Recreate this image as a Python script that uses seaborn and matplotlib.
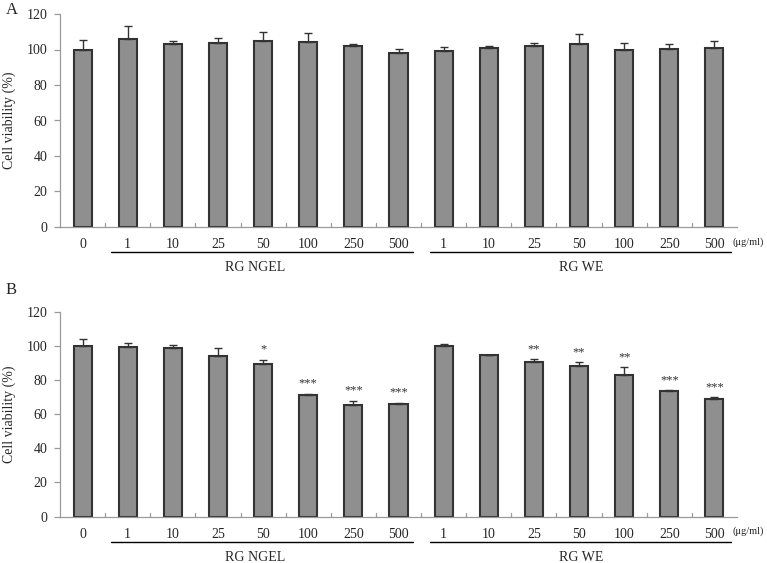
import matplotlib
matplotlib.use("Agg")
import matplotlib.pyplot as plt
import matplotlib.transforms as mtransforms
import seaborn as sns
import pandas as pd
import numpy as np

sns.set_theme(style="white")
plt.rcParams['font.family'] = ['Liberation Serif', 'DejaVu Serif']

# ---- data ----
dose_labels = ["0", "1", "10", "25", "50", "100", "250", "500",
               "1", "10", "25", "50", "100", "250", "500"]
groups = ["Control"] + ["RG NGEL"] * 7 + ["RG WE"] * 7
keys = ["Control 0"] + [f"{g} {d}" for g, d in zip(groups[1:], dose_labels[1:])]

a_mean = [100.0, 105.8, 103.2, 103.5, 105.0, 104.1, 102.0, 98.1,
          99.3, 100.6, 101.7, 103.0, 99.6, 100.2, 100.7]
a_err = [5.5, 7.2, 1.8, 2.9, 5.0, 5.4, 1.0, 2.1,
         2.0, 1.4, 2.1, 5.6, 4.2, 2.8, 4.3]

b_mean = [100.2, 99.4, 99.0, 94.3, 89.4, 71.3, 65.3, 66.1,
          99.8, 94.7, 90.8, 88.1, 83.2, 73.5, 68.8]
b_err = [3.8, 2.2, 1.6, 4.7, 2.5, 0.6, 2.7, 0.7,
         1.2, 0.0, 1.4, 2.4, 4.3, 0.6, 1.2]
b_sig = ["", "", "", "", "*", "***", "***", "***",
         "", "", "**", "**", "**", "***", "***"]

group_names = ["RG NGEL", "RG WE"]
unit_label = "(μg/ml)"
y_ticks = [0, 20, 40, 60, 80, 100, 120]

fig = plt.figure(figsize=(7.67, 5.63), dpi=100)
W, H = 767, 563
ax_a = fig.add_axes([60 / W, 1 - 227 / H, (737 - 60) / W, (227 - 14) / H])
ax_b = fig.add_axes([60 / W, 1 - 516.5 / H, (737 - 60) / W, (516.5 - 312) / H])

bar_color = "#8f8f8f"
edge_color = "#333333"
axis_color = "#9a9a9a"
FS = 10


def draw_panel(ax, means, errs, sig, letter, letter_y, h_px):
    df = pd.DataFrame({"key": keys, "val": means})
    sns.barplot(data=df, x="key", y="val", order=keys, color=bar_color,
                width=0.4, edgecolor=edge_color, linewidth=1.5,
                saturation=1, errorbar=None, ax=ax)
    x = np.arange(len(keys))
    lower = np.zeros(len(errs))
    ax.errorbar(x, means, yerr=[lower, errs], fmt="none", ecolor="#333333",
                elinewidth=1.0, capsize=3, capthick=1.0, zorder=3)
    if sig is not None:
        for xi, m, e, s in zip(x, means, errs, sig):
            if s:
                ax.text(xi, m + e + 2.5, s, ha="center", va="bottom",
                        fontsize=9, color="#333333")
    ax.set_ylim(0, 120)
    ax.set_xlim(-0.5, len(keys) - 0.5)
    ax.set_yticks(y_ticks)
    ax.set_yticklabels([str(t) for t in y_ticks], fontsize=FS)
    ax.set_xticks(x)
    ax.set_xticklabels(dose_labels, fontsize=FS)
    ax.set_xlabel("")
    ax.set_ylabel("Cell viability (%)", fontsize=FS, labelpad=8)
    for sp in ["top", "right"]:
        ax.spines[sp].set_visible(False)
    for sp in ["left", "bottom"]:
        ax.spines[sp].set_color(axis_color)
        ax.spines[sp].set_linewidth(0.9)
    ax.tick_params(axis="y", which="major", direction="out", length=4,
                   width=0.9, color=axis_color, pad=5, left=True)
    ax.tick_params(axis="x", which="major", length=0, pad=8, bottom=False)
    # inward category-boundary tick marks
    for b in np.arange(len(keys) - 1) + 0.5:
        ax.axvline(b, ymin=0, ymax=4 / h_px, color=axis_color, lw=0.9,
                   clip_on=False)
    # group underlines and labels
    trans = mtransforms.blended_transform_factory(ax.transData, ax.transAxes)
    line_y = -25 / h_px
    lab_y = -41 / h_px
    spans = [(0.63, 7.32), (7.70, 14.37)]
    centers = [3.82, 11.04]
    for (x0, x1), c, name in zip(spans, centers, group_names):
        ax.plot([x0, x1], [line_y, line_y], color="black", lw=1.0,
                transform=trans, clip_on=False)
        ax.text(c, lab_y, name, transform=trans, ha="center", va="center",
                fontsize=FS)
    ax.text(14.40, -15 / h_px, unit_label, transform=trans, ha="left",
            va="center", fontsize=7.5)
    fig.text(6 / W, 1 - letter_y / H, letter, fontsize=12, ha="left",
             va="center")


draw_panel(ax_a, a_mean, a_err, None, "A", 10, 213)
draw_panel(ax_b, b_mean, b_err, b_sig, "B", 290, 204.5)

fig.savefig("out.png", dpi=100)
